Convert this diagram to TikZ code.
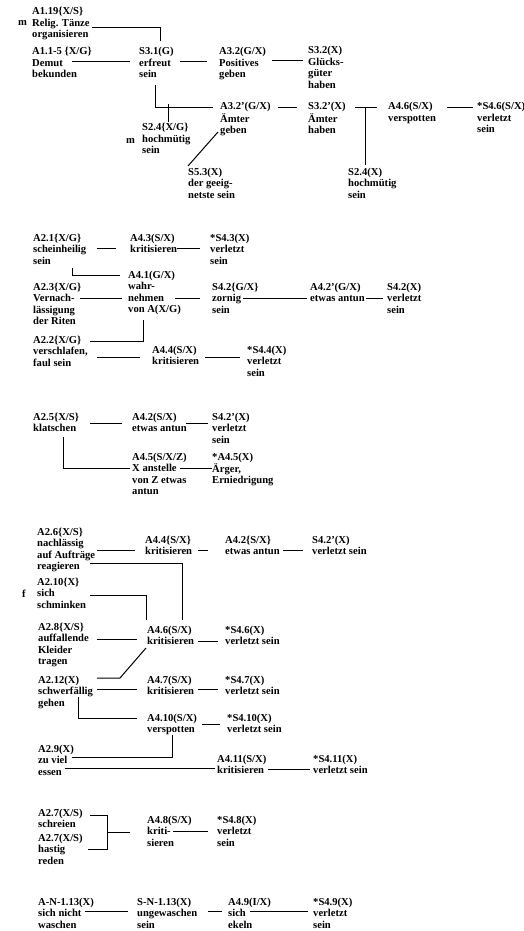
\documentclass[tikz,border=0pt]{standalone}
\usepackage{fontspec}
\setmainfont{Liberation Serif}
\usetikzlibrary{calc}
\newcommand\blk[1]{\begin{tabular}[t]{@{}l@{}}#1\end{tabular}}
\begin{document}
\begin{tikzpicture}[x=1pt,y=-1pt,
  lbl/.style={anchor=base west,inner sep=0pt,font=\fontsize{10.6}{11.5}\selectfont\bfseries},
  conn/.style={line width=1pt}]
\useasboundingbox[fill=white] (0,0) rectangle (524,931);

% ---------------- group 1
\node[lbl] (m1) at (18,26) {m};
\node[lbl] (A119) at (32,15) {\blk{A1.19\{X/S\}\\Relig. Tänze\\organisieren}};
\node[lbl] (A115) at (32,55) {\blk{A1.1-5 \{X/G\}\\Demut\\bekunden}};
\node[lbl] (S31) at (139,55) {\blk{S3.1(G)\\erfreut\\sein}};
\node[lbl] (A32) at (219,55) {\blk{A3.2(G/X)\\Positives\\geben}};
\node[lbl] (S32) at (308,54) {\blk{S3.2(X)\\Glücks-\\güter\\haben}};
\node[lbl] (A32p) at (220,110) {\blk{A3.2'(G/X)\\Ämter\\geben}};
\node[lbl] (S32p) at (308,110) {\blk{S3.2'(X)\\Ämter\\haben}};
\node[lbl] (A46a) at (388,110) {\blk{A4.6(S/X)\\verspotten}};
\node[lbl] (S46a) at (477,110) {\blk{*S4.6(S/X)\\verletzt\\sein}};
\node[lbl] (m2) at (126,143) {m};
\node[lbl] (S24a) at (142,131) {\blk{S2.4\{X/G\}\\hochmütig\\sein}};
\node[lbl] (S53) at (188,175) {\blk{S5.3(X)\\der geeig-\\netste sein}};
\node[lbl] (S24b) at (348,175) {\blk{S2.4(X)\\hochmütig\\sein}};

\draw[conn] ([shift={(60,13)}]A119.base west) -| ([shift={(21,-14)}]S31.base west);
\draw[conn] ([shift={(40,7)}]A115.base west) -- ([shift={(-9,7)}]S31.base west);
\draw[conn] ([shift={(41,7)}]S31.base west) -- ([shift={(-12,7)}]A32.base west);
\draw[conn] ([shift={(53,6)}]A32.base west) -- ([shift={(-5,7)}]S32.base west);
\draw[conn] ([shift={(16,30)}]S31.base west) |- ([shift={(-7,-2)}]A32p.base west);
\draw[conn] ([shift={(26,-27)}]S24a.base west) -- ([shift={(26,-9)}]S24a.base west);
\draw[conn] ([shift={(58,-2)}]A32p.base west) -- ([shift={(-11,-2)}]S32p.base west);
\draw[conn] ([shift={(47,-2)}]S32p.base west) -- ([shift={(-11,-2)}]A46a.base west);
\draw[conn] ([shift={(59,-2)}]A46a.base west) -- ([shift={(-4,-2)}]S46a.base west);
\draw[conn] ([shift={(57,-2)}]S32p.base west) -- ([shift={(17,-10)}]S24b.base west);
\draw[conn] ([shift={(-2,22)}]A32p.base west) -- ([shift={(0,-9)}]S53.base west);

% ---------------- group 2
\node[lbl] (A21) at (33,241) {\blk{A2.1\{X/G\}\\scheinheilig\\sein}};
\node[lbl] (A43) at (130,241) {\blk{A4.3(S/X)\\kritisieren}};
\node[lbl] (S43) at (210,241) {\blk{*S4.3(X)\\verletzt\\sein}};
\node[lbl] (A41) at (128,278) {\blk{A4.1(G/X)\\wahr-\\nehmen\\von A(X/G)}};
\node[lbl] (A23) at (33,290) {\blk{A2.3\{X/G\}\\Vernach-\\lässigung\\der Riten}};
\node[lbl] (S42a) at (212,290) {\blk{S4.2\{G/X\}\\zornig\\sein}};
\node[lbl] (A42p) at (310,290) {\blk{A4.2'(G/X)\\etwas antun}};
\node[lbl] (S42b) at (387,290) {\blk{S4.2(X)\\verletzt\\sein}};
\node[lbl] (A22) at (33,343) {\blk{A2.2\{X/G\}\\verschlafen,\\faul sein}};
\node[lbl] (A44a) at (152,353) {\blk{A4.4(S/X)\\kritisieren}};
\node[lbl] (S44) at (247,353) {\blk{*S4.4(X)\\verletzt\\sein}};

\draw[conn] ([shift={(64,7)}]A21.base west) -- ([shift={(-14,7)}]A43.base west);
\draw[conn] ([shift={(47,7)}]A43.base west) -- ([shift={(-10,7)}]S43.base west);
\draw[conn] ([shift={(39,27)}]A21.base west) |- ([shift={(-8,-3)}]A41.base west);
\draw[conn] ([shift={(47,8)}]A23.base west) -- ([shift={(-6,20)}]A41.base west);
\draw[conn] ([shift={(47,20)}]A41.base west) -- ([shift={(-12,8)}]S42a.base west);
\draw[conn] ([shift={(31,8)}]S42a.base west) -- ([shift={(-3,8)}]A42p.base west);
\draw[conn] ([shift={(56,8)}]A42p.base west) -- ([shift={(-4,8)}]S42b.base west);
\draw[conn] ([shift={(15,42)}]A41.base west) |- ([shift={(57,-2)}]A22.base west);
\draw[conn] ([shift={(64,14)}]A22.base west) -- ([shift={(-12,4)}]A44a.base west);
\draw[conn] ([shift={(53,4)}]A44a.base west) -- ([shift={(-7,4)}]S44.base west);

% ---------------- group 3
\node[lbl] (A25) at (33,420) {\blk{A2.5\{X/S\}\\klatschen}};
\node[lbl] (A42a) at (132,420) {\blk{A4.2(S/X)\\etwas antun}};
\node[lbl] (S42c) at (212,420) {\blk{S4.2'(X)\\verletzt\\sein}};
\node[lbl] (A45) at (132,460) {\blk{A4.5(S/X/Z)\\X anstelle\\von Z etwas\\antun}};
\node[lbl] (S45) at (212,460) {\blk{*A4.5(X)\\Ärger,\\Erniedrigung}};

\draw[conn] ([shift={(57,3)}]A25.base west) -- ([shift={(-10,3)}]A42a.base west);
\draw[conn] ([shift={(54,3)}]A42a.base west) -- ([shift={(-4,3)}]S42c.base west);
\draw[conn] ([shift={(30,17)}]A25.base west) |- ([shift={(-2,8)}]A45.base west);
\draw[conn] ([shift={(48,8)}]A45.base west) -- ([shift={(0,8)}]S45.base west);

% ---------------- group 4
\node[lbl] (A26) at (37,535) {\blk{A2.6\{X/S\}\\nachlässig\\auf Aufträge\\reagieren}};
\node[lbl] (A44b) at (145,543) {\blk{A4.4\{S/X\}\\kritisieren}};
\node[lbl] (A42b) at (225,543) {\blk{A4.2\{S/X\}\\etwas antun}};
\node[lbl] (S42d) at (312,543) {\blk{S4.2'(X)\\verletzt sein}};
\node[lbl] (f) at (22,597) {f};
\node[lbl] (A210) at (37,585) {\blk{A2.10\{X\}\\sich\\schminken}};
\node[lbl] (A28) at (38,630) {\blk{A2.8\{X/S\}\\auffallende\\Kleider\\tragen}};
\node[lbl] (A46b) at (147,633) {\blk{A4.6(S/X)\\kritisieren}};
\node[lbl] (S46b) at (225,633) {\blk{*S4.6(X)\\verletzt sein}};
\node[lbl] (A212) at (38,683) {\blk{A2.12(X)\\schwerfällig\\gehen}};
\node[lbl] (A47) at (147,683) {\blk{A4.7(S/X)\\kritisieren}};
\node[lbl] (S47) at (225,683) {\blk{*S4.7(X)\\verletzt sein}};
\node[lbl] (A410) at (147,721) {\blk{A4.10(S/X)\\verspotten}};
\node[lbl] (S410) at (227,721) {\blk{*S4.10(X)\\verletzt sein}};
\node[lbl] (A29) at (38,752) {\blk{A2.9(X)\\zu viel\\essen}};
\node[lbl] (A411) at (217,762) {\blk{A4.11(S/X)\\kritisieren}};
\node[lbl] (S411) at (313,762) {\blk{*S4.11(X)\\verletzt sein}};

\draw[conn] ([shift={(60,15)}]A26.base west) -- ([shift={(-10,7)}]A44b.base west);
\draw[conn] ([shift={(53,7)}]A44b.base west) -- ([shift={(-17,7)}]A42b.base west);
\draw[conn] ([shift={(58,7)}]A42b.base west) -- ([shift={(-9,7)}]S42d.base west);
\draw[conn] ([shift={(53,28)}]A26.base west) -| ([shift={(35,-13)}]A46b.base west);
\draw[conn] ([shift={(53,10)}]A210.base west) -| ([shift={(-1,-13)}]A46b.base west);
\draw[conn] ([shift={(59,9)}]A28.base west) -- ([shift={(-10,6)}]A46b.base west);
\draw[conn] ([shift={(51,8)}]A46b.base west) -- ([shift={(-7,8)}]S46b.base west);
\draw[conn] ([shift={(59,-5)}]A212.base west) -- ([shift={(82,-5)}]A212.base west)
   -- ([shift={(-1,15)}]A46b.base west);
\draw[conn] ([shift={(59,6)}]A212.base west) -- ([shift={(-10,6)}]A47.base west);
\draw[conn] ([shift={(51,6)}]A47.base west) -- ([shift={(-7,6)}]S47.base west);
\draw[conn] ([shift={(40,14)}]A212.base west) |- ([shift={(-10,-3)}]A410.base west);
\draw[conn] ([shift={(55,3)}]A410.base west) -- ([shift={(-7,3)}]S410.base west);
\draw[conn] ([shift={(25,14)}]A410.base west) |- ([shift={(34,5)}]A29.base west);
\draw[conn] ([shift={(27,16)}]A29.base west) -- ([shift={(-2,6)}]A411.base west);
\draw[conn] ([shift={(51,7)}]A411.base west) -- ([shift={(-3,7)}]S411.base west);

% ---------------- group 5
\node[lbl] (A27a) at (38,816) {\blk{A2.7(X/S)\\schreien}};
\node[lbl] (A27b) at (38,841) {\blk{A2.7(X/S)\\hastig\\reden}};
\node[lbl] (A48) at (147,823) {\blk{A4.8(S/X)\\kriti-\\sieren}};
\node[lbl] (S48) at (217,823) {\blk{*S4.8(X)\\verletzt\\sein}};

\draw[conn] ([shift={(52,-1)}]A27a.base west) -| ([shift={(69,8)}]A27b.base west)
   -- ([shift={(50,8)}]A27b.base west);
\draw[conn] ([shift={(-40,9)}]A48.base west) -- ([shift={(-17,9)}]A48.base west);
\draw[conn] ([shift={(26,8)}]A48.base west) -- ([shift={(-9,8)}]S48.base west);

% ---------------- group 6
\node[lbl] (AN) at (38,905) {\blk{A-N-1.13(X)\\sich nicht\\waschen}};
\node[lbl] (SN) at (137,905) {\blk{S-N-1.13(X)\\ungewaschen\\sein}};
\node[lbl] (A49) at (228,905) {\blk{A4.9(I/X)\\sich\\ekeln}};
\node[lbl] (S49) at (313,905) {\blk{*S4.9(X)\\verletzt\\sein}};

\draw[conn] ([shift={(47,6)}]AN.base west) -- ([shift={(-9,6)}]SN.base west);
\draw[conn] ([shift={(71,6)}]SN.base west) -- ([shift={(-6,6)}]A49.base west);
\draw[conn] ([shift={(22,6)}]A49.base west) -- ([shift={(-5,6)}]S49.base west);
\end{tikzpicture}
\end{document}
